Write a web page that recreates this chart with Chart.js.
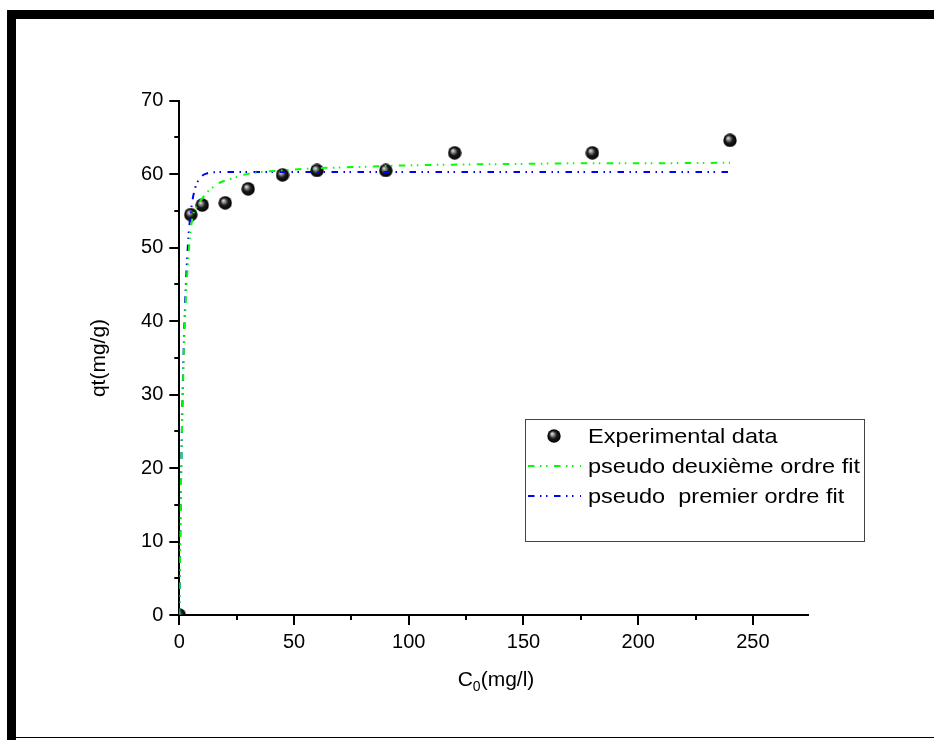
<!DOCTYPE html>
<html>
<head>
<meta charset="utf-8">
<script src="https://cdn.jsdelivr.net/npm/chart.js@4"></script>
<style>
  html, body { margin: 0; padding: 0; background: #fff; }
  #wrap { position: relative; width: 934px; height: 740px; overflow: hidden; }
  #chart { position: absolute; left: 0; top: 0; }
  .bar { position: absolute; background: #000; }
</style>
</head>
<body>
<div id="wrap">
  <canvas id="chart" width="934" height="740"></canvas>
  <div class="bar" style="left:7px;top:10px;width:9px;height:730px"></div>
  <div class="bar" style="left:7px;top:10px;width:927px;height:9px"></div>
  <div class="bar" style="left:7px;top:737px;width:927px;height:1px"></div>
</div>
<script>
// experimental points
const expTime = [0, 5, 10, 20, 30, 45, 60, 90, 120, 180, 240];
const expQt = [0, 54.5, 55.8, 56.1, 58.0, 59.9, 60.5, 60.5, 62.9, 62.9, 64.6];

// pseudo deuxieme ordre fit (green)
const psoTime = [0, 0.25, 0.5, 0.75, 1, 1.5, 2, 2.5, 3, 4, 5, 6, 8, 10, 12, 15, 18, 22, 28, 33, 44, 60, 80, 100, 120, 150, 180, 210, 240];
const psoQt = [0, 6.5, 12.5, 18, 22.5, 30, 36, 40.5, 44, 49, 52.5, 54.4, 55.8, 56.7, 57.5, 58.3, 58.9, 59.3, 59.9, 60.2, 60.5, 60.8, 61.0, 61.2, 61.3, 61.4, 61.5, 61.5, 61.55];

// pseudo premier ordre fit (blue)
const pfoTime = [0, 0.25, 0.5, 0.75, 1, 1.5, 2, 2.5, 3, 4, 5, 6, 7, 8, 10, 12, 15, 20, 30, 60, 120, 180, 240];
const pfoQt = [0, 6.8, 12.9, 18.2, 23.0, 30.9, 37.2, 42.1, 46.0, 51.5, 54.8, 56.9, 58.2, 59.0, 59.8, 60.1, 60.25, 60.3, 60.3, 60.3, 60.3, 60.3, 60.3];

const seriesNames = ["Experimental data", "pseudo deuxième ordre fit", "pseudo  premier ordre fit"];
const xTickVals = [0, 25, 50, 75, 100, 125, 150, 175, 200, 225, 250];
const yTickVals = [0, 5, 10, 15, 20, 25, 30, 35, 40, 45, 50, 55, 60, 65, 70];

const FONT = "'Liberation Sans', Arial, sans-serif";
const dashStyle = [6.5, 5.5, 1.5, 4.5, 1.5, 6.5];

function pairs(xs, ys) {
  return xs.map((x, i) => ({ x: x, y: ys[i] }));
}

// shaded black ball used as marker
function makeBall(r) {
  const c = document.createElement("canvas");
  c.width = c.height = 2 * r;
  const g = c.getContext("2d");
  const grd = g.createRadialGradient(r * 0.7, r * 0.65, 0, r, r, r);
  grd.addColorStop(0, "#f4f4f4");
  grd.addColorStop(0.22, "#9a9a9a");
  grd.addColorStop(0.55, "#1a1a1a");
  grd.addColorStop(1, "#000");
  g.fillStyle = grd;
  g.beginPath();
  g.arc(r, r, r - 0.3, 0, Math.PI * 2);
  g.fill();
  return c;
}
const ball = makeBall(7);

const axisDecor = {
  id: "axisDecor",
  afterDraw(chart) {
    const { ctx, chartArea: a, scales: { x, y } } = chart;
    ctx.save();
    ctx.strokeStyle = "#000";
    ctx.lineWidth = 2;
    ctx.beginPath();
    xTickVals.forEach(v => {
      const px = Math.round(x.getPixelForValue(v));
      const len = v % 50 === 0 ? 10 : 5;
      ctx.moveTo(px, a.bottom);
      ctx.lineTo(px, a.bottom + len);
    });
    yTickVals.forEach(v => {
      const py = Math.round(y.getPixelForValue(v));
      const len = v % 10 === 0 ? 10 : 5;
      ctx.moveTo(a.left, py);
      ctx.lineTo(a.left - len, py);
    });
    ctx.stroke();

    // axis titles
    ctx.fillStyle = "#000";
    ctx.font = "21px " + FONT;
    ctx.textBaseline = "alphabetic";
    // x title with subscript
    const t1 = "C", t2 = "0", t3 = "(mg/l)";
    const w1 = ctx.measureText(t1).width;
    ctx.font = "14px " + FONT;
    const w2 = ctx.measureText(t2).width;
    ctx.font = "21px " + FONT;
    const w3 = ctx.measureText(t3).width;
    let sx = 496 - (w1 + w2 + w3) / 2;
    const by = 686;
    ctx.textAlign = "left";
    ctx.fillText(t1, sx, by);
    ctx.font = "14px " + FONT;
    ctx.fillText(t2, sx + w1, by + 5);
    ctx.font = "21px " + FONT;
    ctx.fillText(t3, sx + w1 + w2, by);

    // y title
    ctx.save();
    ctx.translate(99, 358);
    ctx.rotate(-Math.PI / 2);
    ctx.textAlign = "center";
    ctx.textBaseline = "middle";
    ctx.fillText("qt(mg/g)", 0, 0);
    ctx.restore();
    ctx.restore();
  }
};

const boxLegend = {
  id: "boxLegend",
  afterDraw(chart) {
    const ctx = chart.ctx;
    const bx = 525, byTop = 419, bw = 339, bh = 122;
    ctx.save();
    ctx.strokeStyle = "#444";
    ctx.lineWidth = 1;
    ctx.strokeRect(bx + 0.5, byTop + 0.5, bw, bh);
    const rows = [436, 466, 496];
    const sets = [chart.data.datasets[2], chart.data.datasets[0], chart.data.datasets[1]];
    sets.forEach((ds, i) => {
      const cy = rows[i];
      if (ds.showLine === false) {
        ctx.drawImage(ball, 554 - 7, cy - 7);
      } else {
        ctx.strokeStyle = ds.borderColor;
        ctx.lineWidth = 2;
        ctx.setLineDash(dashStyle);
        ctx.beginPath();
        ctx.moveTo(528, cy);
        ctx.lineTo(581, cy);
        ctx.stroke();
        ctx.setLineDash([]);
      }
      ctx.save();
      ctx.translate(588, cy);
      ctx.scale(1.12, 1);
      ctx.fillStyle = "#000";
      ctx.font = "21px " + FONT;
      ctx.textAlign = "left";
      ctx.textBaseline = "middle";
      ctx.fillText(ds.label, 0, 1);
      ctx.restore();
    });
    ctx.restore();
  }
};

new Chart(document.getElementById("chart"), {
  type: "line",
  data: {
    datasets: [
      {
        label: seriesNames[1],
        data: pairs(psoTime, psoQt),
        borderColor: "#00ff00",
        borderWidth: 2,
        borderDash: dashStyle,
        pointRadius: 0,
        cubicInterpolationMode: "monotone",
        fill: false
      },
      {
        label: seriesNames[2],
        data: pairs(pfoTime, pfoQt),
        borderColor: "#0000ff",
        borderWidth: 2,
        borderDash: dashStyle,
        pointRadius: 0,
        cubicInterpolationMode: "monotone",
        fill: false
      },
      {
        label: seriesNames[0],
        data: pairs(expTime, expQt),
        showLine: false,
        pointStyle: ball,
        pointRadius: 7,
        borderColor: "#000",
        backgroundColor: "#000"
      }
    ]
  },
  options: {
    responsive: false,
    animation: false,
    events: [],
    layout: { padding: { top: 100.7, right: 126, bottom: 0, left: 0 } },
    plugins: { legend: { display: false }, tooltip: { enabled: false } },
    scales: {
      x: {
        type: "linear",
        min: 0,
        max: 274,
        afterBuildTicks: s => { s.ticks = xTickVals.map(v => ({ value: v })); },
        afterFit: s => { s.height = 125; },
        grid: { display: false, drawTicks: false },
        border: { display: true, color: "#000", width: 2 },
        ticks: {
          padding: 15.5,
          maxRotation: 0,
          autoSkip: false,
          color: "#000",
          font: { size: 20, family: FONT },
          callback: v => (v % 50 === 0 ? v : "")
        }
      },
      y: {
        type: "linear",
        min: 0,
        max: 70,
        afterBuildTicks: s => { s.ticks = yTickVals.map(v => ({ value: v })); },
        afterFit: s => { s.width = 179.3; },
        grid: { display: false, drawTicks: false },
        border: { display: true, color: "#000", width: 2 },
        ticks: {
          padding: 16,
          autoSkip: false,
          color: "#000",
          font: { size: 20, family: FONT },
          callback: v => (v % 10 === 0 ? v : "")
        }
      }
    }
  },
  plugins: [axisDecor, boxLegend]
});
</script>
</body>
</html>
